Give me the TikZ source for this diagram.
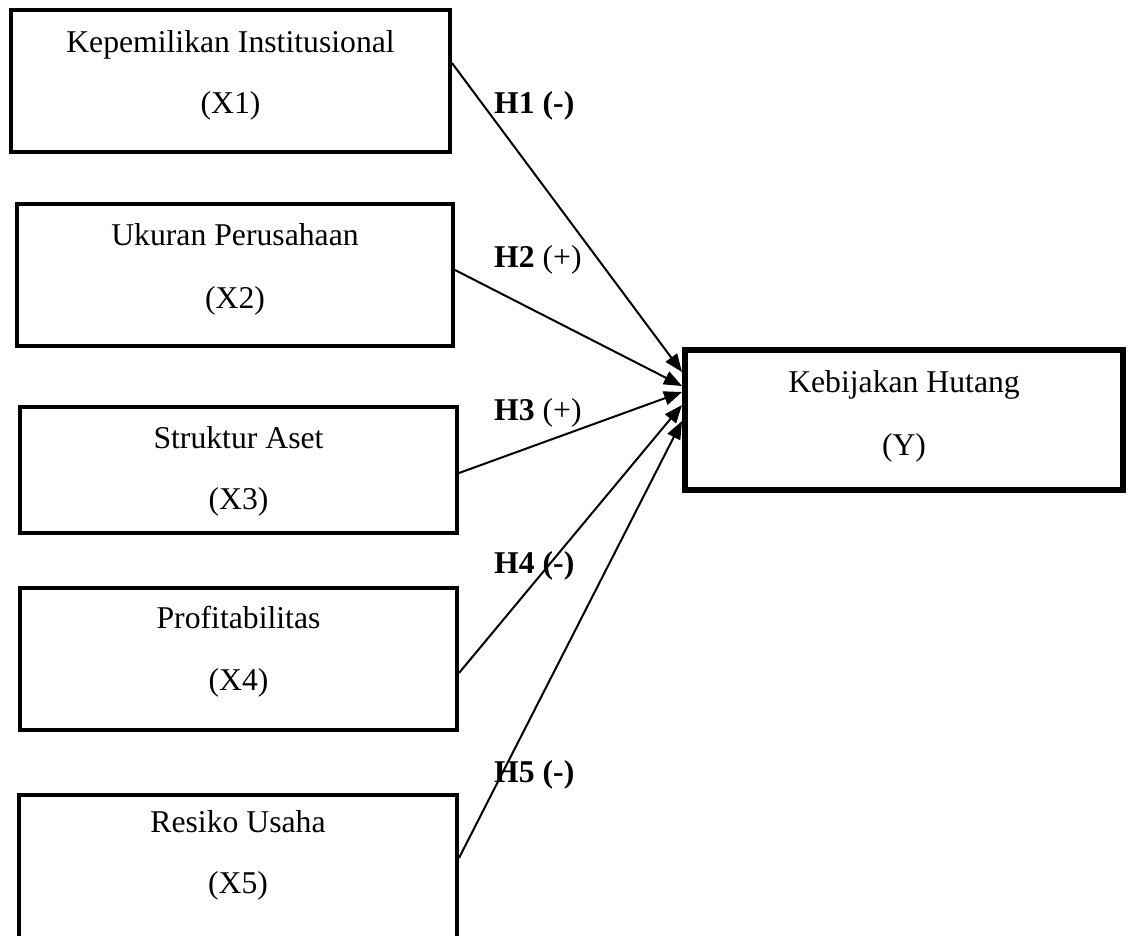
\documentclass[tikz,border=0pt]{standalone}
\usepackage{fontspec}
\setmainfont{Liberation Serif}
\usetikzlibrary{arrows.meta}
\begin{document}
\begin{tikzpicture}[x=1pt,y=-1pt,
  every node/.style={font=\fontsize{31.7}{38}\selectfont},
  xbox/.style={draw, line width=4pt, rectangle, inner sep=0pt},
  ybox/.style={draw, line width=6pt, rectangle, inner sep=0pt},
  txt/.style={anchor=base, inner sep=0pt},
  hlab/.style={anchor=base west, inner sep=0pt},
  conn/.style={line width=2pt, -{Triangle[length=18pt,width=14pt]}}]
\useasboundingbox (0,0) rectangle (1133,935);

% boxes
\node[xbox, minimum width=439pt, minimum height=142pt] (X1) at (230.5,81) {};
\node[xbox, minimum width=436pt, minimum height=142pt] (X2) at (235,275) {};
\node[xbox, minimum width=437pt, minimum height=126pt] (X3) at (238.5,470) {};
\node[xbox, minimum width=437pt, minimum height=142pt] (X4) at (238.5,659) {};
\node[xbox, minimum width=438pt, minimum height=160pt] (X5) at (238,875) {};
\node[ybox, minimum width=438pt, minimum height=140pt] (Y) at (904,420) {};

% texts
\node[txt] (X1a) at (230.5,52) {Kepemilikan Institusional};
\node[txt] (X1b) at (230.5,113) {(X1)};
\node[txt] (X2a) at (235,245) {Ukuran Perusahaan};
\node[txt] (X2b) at (235,308) {(X2)};
\node[txt] (X3a) at (238.5,448) {Struktur Aset};
\node[txt] (X3b) at (238.5,509) {(X3)};
\node[txt] (X4a) at (238.5,628) {Profitabilitas};
\node[txt] (X4b) at (238.5,690) {(X4)};
\node[txt] (X5a) at (238,832) {Resiko Usaha};
\node[txt] (X5b) at (238,893) {(X5)};
\node[txt] (Ya) at (904,392) {Kebijakan Hutang};
\node[txt] (Yb) at (904,455) {(Y)};

% hypothesis labels
\node[hlab] (H1) at (494,113) {\textbf{H1 (-)}};
\node[hlab] (H2) at (494,267) {\textbf{H2} (+)};
\node[hlab] (H3) at (494,420) {\textbf{H3} (+)};
\node[hlab] (H4) at (494,573) {\textbf{H4 (-)}};
\node[hlab] (H5) at (494,782) {\textbf{H5 (-)}};

% connectors
\draw[conn] ([yshift=18pt]X1.east) -- ([yshift=48pt]Y.west);
\draw[conn] ([yshift=5pt]X2.east) -- ([yshift=34pt]Y.west);
\draw[conn] ([yshift=-3pt]X3.east) -- ([yshift=28pt]Y.west);
\draw[conn] ([yshift=-14pt]X4.east) -- ([yshift=15pt]Y.west);
\draw[conn] ([yshift=17pt]X5.east) -- ([yshift=-1pt]Y.west);
\end{tikzpicture}
\end{document}
